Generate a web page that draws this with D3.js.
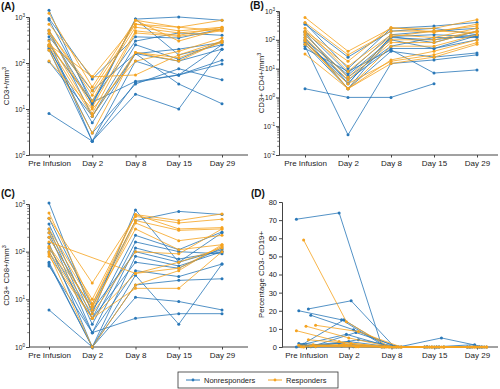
<!DOCTYPE html>
<html>
<head>
<meta charset="utf-8">
<script src="https://cdn.jsdelivr.net/npm/d3@7"></script>
<style>
body { margin: 0; background: #fff; }
text { font-family: "Liberation Sans", Arial, sans-serif; }
</style>
</head>
<body>
<svg id="chart" width="500" height="389"></svg>
<script>
// time points and groups
var days = ["Pre Infusion", "Day 2", "Day 8", "Day 15", "Day 29"];
var groups = ["Nonresponders", "Responders"];

// (A) CD3+/mm3, one row per patient, values per time point
var cd3NR = [
    [1400, 12, 900, 1000, 850], [930, 45, 370, 350, 550], [860, 15, 300, 450, 400],
    [520, 7, 160, 200, 280], [440, 13, 900, 150, 250], [370, 25, 160, 110, 200],
    [315, 2, 110, 55, 95], [246, 14, 40, 55, 115], [227, 3, 35, 75, 43],
    [208, 5, 160, 35, 13], [192, 2, 21, 10, 200], [107, 7, 250, 120, 300],
    [8, 2, 38, 55, 250]
];
var cd3R = [
    [1200, 30, 850, 600, 850], [700, 50, 700, 500, 600], [500, 20, 600, 450, 550],
    [440, 11, 500, 400, 600], [300, 8, 450, 380, 500], [250, 15, 850, 300, 550],
    [250, 50, 55, 150, 300], [230, 7, 170, 130, 280], [190, 3, 170, 110, 300],
    [110, 10, 110, 180, 350], [500, 25, 700, 600, 500]
];

// (B) CD3+ CD4+/mm3
var cd4NR = [
    [380, 10, 250, 300, 400], [350, 25, 200, 250, 150], [200, 7, 150, 200, 250],
    [180, 3, 130, 150, 130], [120, 2, 120, 100, 150], [100, 6, 100, 50, 140],
    [80, 4, 50, 50, 100], [70, 2, 40, 25, 35], [60, 0.05, 15, 20, 30],
    [50, 8, 45, 7, 9], [90, 3, 130, 80, 200], [2, 1, 1, 3, null],
    [150, 5, 60, 120, 120]
];
var cd4R = [
    [600, 40, 250, 250, 500], [400, 30, 200, 200, 300], [200, 18, 270, 180, 350],
    [180, 12, 150, 120, 250], [150, 5, 100, 100, 200], [120, 4, 80, 80, 200],
    [100, 2, 60, 60, 150], [90, 2, 20, 40, 100], [70, 3, 18, 30, 80],
    [32, 2, 15, 25, 70], [250, 8, 130, 200, 180]
];

// (C) CD3+ CD8+/mm3
var cd8NR = [
    [1050, 5, 750, 60, 250], [500, 7, 450, 700, 600], [380, 4, 220, 110, 260],
    [300, 3, 160, 100, 90], [250, 2, 120, 70, 100], [200, 6, 100, 60, 110],
    [150, 1, 80, 50, 100], [120, 4, 60, 45, 120], [100, 2, 40, 30, 55],
    [60, 1, 20, 25, 27], [55, 1, 11, 9, 6], [50, 2, 4, 5, 5],
    [6, 1, 32, 3, 55]
];
var cd8R = [
    [650, 8, 600, 450, 620], [500, 22, 550, 400, 480], [300, 10, 600, 300, 320],
    [250, 8, 450, 280, 300], [200, 6, 400, 170, 220], [130, 7, 300, 110, 140],
    [120, 5, 100, 90, 300], [100, 4, 35, 60, 120], [90, 1, 20, 40, 140],
    [80, 4, 17, 17, 100], [160, null, 35, 45, 130]
];

// (D) Percentage CD3- CD19+
var cd19NR = [
    [70.5, 74, 0.5, 0, 0], [21, 25.5, 0.3, 0, 0], [20, 15, 0.5, 0.2, 0],
    [17.5, 9.5, 0.2, 0, 0], [1, 15, 0.3, 0, 0], [0.5, 8, 0, 5, 0],
    [1.5, 7, 0.2, 0, 1.3], [0.2, 4, 0, 0, 0], [0.8, 3, 0, 0, 0],
    [0, 2, 0, 0, 0], [0.3, 1, 0, 0, 0], [2, 0.5, 0, 0, 0], [0.1, 0.2, 0, 0, 0]
];
var cd19R = [
    [59, 14, 0.2, 0, 0], [12, 8.5, 0, 0, 0], [11.5, 5, 0, 0, 0],
    [9, 3, 0, 0, 0], [4, 2, 0, 0, 0], [1, 1, 0, 0, 0], [0.5, 0.5, 0, 0, 0],
    [0.2, 1.5, 0, 0, 0], [1.2, 0.2, 0, 0, 0], [0, 0.8, 0, 0, 0], [0.3, 0.1, 0, 0, 0]
];

var colors = {Nonresponders: "#2a78b8", Responders: "#f5a320"};
var axisColor = "#444";

var panels = [
    {tag: "(A)", label: "CD3+/mm", data: [cd3NR, cd3R], log: true, domain: [1, 1000],
        left: 29, top: 17, width: 219, height: 138, cats: [20, 193], tagX: 1, tagY: 10, labelX: 6},
    {tag: "(B)", label: "CD3+ CD4+/mm", data: [cd4NR, cd4R], log: true, domain: [0.01, 1000],
        left: 279, top: 11, width: 219, height: 144, cats: [26, 198], tagX: 250, tagY: 9, labelX: 261},
    {tag: "(C)", label: "CD3+ CD8+/mm", data: [cd8NR, cd8R], log: true, domain: [1, 1000],
        left: 29, top: 204, width: 219, height: 143, cats: [20, 193], tagX: 1, tagY: 197, labelX: 6},
    {tag: "(D)", label: "Percentage CD3- CD19+", data: [cd19NR, cd19R], log: false, domain: [0, 80],
        left: 282, top: 202, width: 216, height: 145, cats: [24, 195], tagX: 251, tagY: 197, labelX: 261}
];

var svg = d3.select("#chart");

panels.forEach(function (p) {
    var g = svg.append("g").attr("transform", "translate(" + p.left + "," + p.top + ")");

    var x = d3.scalePoint().domain(days).range(p.cats);
    var y = p.log ? d3.scaleLog().domain(p.domain).range([p.height, 0])
                  : d3.scaleLinear().domain(p.domain).range([p.height, 0]);

    // panel letter
    svg.append("text").attr("x", p.tagX).attr("y", p.tagY)
        .attr("font-size", "10px").attr("font-weight", "bold").attr("fill", "#111")
        .text(p.tag);

    // y axis title
    var yt = svg.append("text")
        .attr("transform", "translate(" + (p.labelX + 3) + "," + (p.top + p.height / 2) + ") rotate(-90)")
        .attr("text-anchor", "middle").attr("font-size", "7.8px").attr("fill", "#222")
        .text(p.label);
    if (p.log) {
        yt.append("tspan").attr("dy", "-3").attr("font-size", "5.5px").text("3");
    }

    // y axis
    var yAxis = g.append("g").attr("class", "y axis");
    if (p.log) {
        var lo = Math.round(Math.log10(p.domain[0])), hi = Math.round(Math.log10(p.domain[1]));
        var decades = d3.range(lo, hi + 1);
        yAxis.call(d3.axisLeft(y).tickValues(decades.map(function (e) { return Math.pow(10, e); }))
            .tickSize(3).tickFormat(""));
        // superscript labels
        yAxis.selectAll(".tick").each(function (d) {
            var t = d3.select(this).append("text")
                .attr("x", -4).attr("dy", "0.32em").attr("text-anchor", "end")
                .attr("font-size", "6.6px").attr("fill", "#222");
            t.append("tspan").text("10");
            t.append("tspan").attr("dy", "-2.6").attr("font-size", "4.6px")
                .text(Math.round(Math.log10(d)));
        });
        // minor ticks
        var minors = [];
        decades.slice(0, -1).forEach(function (e) {
            d3.range(2, 10).forEach(function (m) { minors.push(m * Math.pow(10, e)); });
        });
        yAxis.selectAll(".minor").data(minors).enter().append("line")
            .attr("class", "minor").attr("x1", -1.8).attr("x2", 0)
            .attr("y1", function (d) { return y(d); }).attr("y2", function (d) { return y(d); })
            .attr("stroke", axisColor).attr("stroke-width", 0.7);
    } else {
        yAxis.call(d3.axisLeft(y).ticks(8).tickSize(3));
        yAxis.selectAll(".tick text").attr("font-size", "7.5px").attr("fill", "#222")
            .attr("font-family", "Liberation Sans, Arial, sans-serif").attr("x", -5);
    }
    yAxis.select(".domain").attr("stroke", axisColor);
    yAxis.selectAll(".tick line").attr("stroke", axisColor);

    // x axis
    var xAxis = g.append("g").attr("class", "x axis")
        .attr("transform", "translate(0," + p.height + ")")
        .call(d3.axisBottom(x).tickSize(2.5).tickPadding(3));
    xAxis.select(".domain").remove();
    xAxis.append("line").attr("x1", 0).attr("x2", p.width).attr("stroke", axisColor);
    xAxis.selectAll(".tick line").attr("stroke", axisColor);
    xAxis.selectAll(".tick text").attr("font-size", "8px").attr("fill", "#222")
        .attr("font-family", "Liberation Sans, Arial, sans-serif");

    // patient lines
    groups.forEach(function (grp, gi) {
        var rows = p.data[gi];
        rows.forEach(function (row, i) {
            // panel D shows the actual sampling days, spread a little round each label
            var shift = p.log ? 0 : (((i * 5 + gi * 3) % 9) - 4) * 2.4;
            var pts = row.map(function (v, k) { return {day: days[k], v: v}; })
                .filter(function (d) { return d.v !== null; });
            var line = d3.line()
                .x(function (d) { return x(d.day) + shift; })
                .y(function (d) { return y(d.v); });
            g.append("path").datum(pts)
                .attr("d", line).attr("fill", "none")
                .attr("stroke", colors[grp]).attr("stroke-width", 0.9).attr("opacity", 0.9);
            g.selectAll(null).data(pts).enter().append("circle")
                .attr("cx", function (d) { return x(d.day) + shift; })
                .attr("cy", function (d) { return y(d.v); })
                .attr("r", 1.5).attr("fill", colors[grp]);
        });
    });
});

// legend
var legend = svg.append("g").attr("transform", "translate(178,372)");
legend.append("rect").attr("width", 160).attr("height", 16)
    .attr("fill", "#fff").attr("stroke", "#333").attr("stroke-width", 0.8);
var legX = d3.scaleOrdinal().domain(groups).range([8, 90]);
groups.forEach(function (grp) {
    var lg = legend.append("g").attr("transform", "translate(" + legX(grp) + ",8)");
    lg.append("line").attr("x1", 0).attr("x2", 14).attr("stroke", colors[grp]).attr("stroke-width", 1);
    lg.append("circle").attr("cx", 7).attr("r", 1.4).attr("fill", colors[grp]);
    lg.append("text").attr("x", 18).attr("dy", "0.35em").attr("font-size", "7.5px")
        .attr("fill", "#222").text(grp);
});
</script>
</body>
</html>
